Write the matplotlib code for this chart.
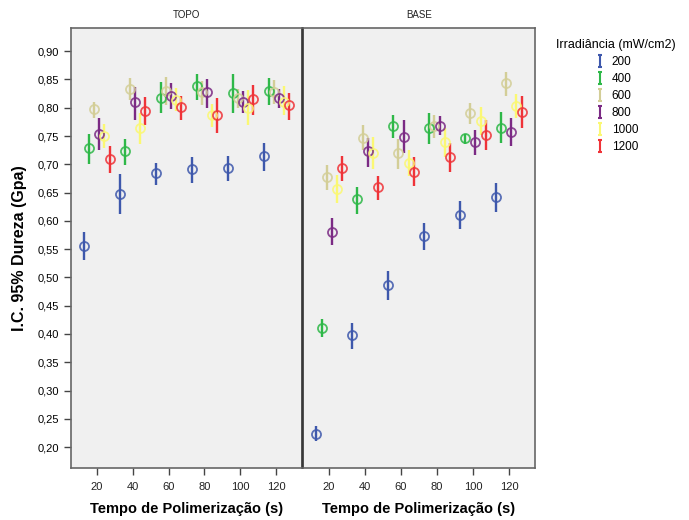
import matplotlib
matplotlib.use("Agg")
import matplotlib.pyplot as plt
from matplotlib.path import Path
from matplotlib.lines import Line2D
from matplotlib.ticker import FuncFormatter
import numpy as np

plt.rcParams['font.family'] = ['Liberation Sans', 'DejaVu Sans']

times = [20, 40, 60, 80, 100, 120]
irradiances = ['200', '400', '600', '800', '1000', '1200']
colors = ['#3e58ac', '#2eb848', '#d3ce97', '#7b2a84', '#fbf873', '#ef3338']
panels = ['TOPO', 'BASE']

# TOPO: mean, lower CI, upper CI per irradiance
topo_mean_200 = [0.556, 0.648, 0.684, 0.691, 0.693, 0.714]
topo_lo_200 = [0.530, 0.612, 0.664, 0.667, 0.670, 0.688]
topo_hi_200 = [0.581, 0.682, 0.702, 0.713, 0.715, 0.738]
topo_mean_400 = [0.729, 0.723, 0.818, 0.839, 0.826, 0.830]
topo_lo_400 = [0.701, 0.699, 0.790, 0.813, 0.790, 0.804]
topo_hi_400 = [0.753, 0.744, 0.846, 0.860, 0.859, 0.853]
topo_mean_600 = [0.797, 0.833, 0.829, 0.827, 0.817, 0.828]
topo_lo_600 = [0.781, 0.813, 0.804, 0.804, 0.800, 0.806]
topo_hi_600 = [0.811, 0.852, 0.854, 0.847, 0.834, 0.849]
topo_mean_800 = [0.754, 0.810, 0.821, 0.827, 0.810, 0.817]
topo_lo_800 = [0.726, 0.779, 0.797, 0.800, 0.790, 0.800]
topo_hi_800 = [0.781, 0.837, 0.844, 0.851, 0.829, 0.833]
topo_mean_1000 = [0.750, 0.764, 0.814, 0.788, 0.800, 0.811]
topo_lo_1000 = [0.729, 0.736, 0.795, 0.766, 0.770, 0.788]
topo_hi_1000 = [0.771, 0.790, 0.835, 0.807, 0.831, 0.838]
topo_mean_1200 = [0.709, 0.794, 0.801, 0.787, 0.815, 0.804]
topo_lo_1200 = [0.684, 0.769, 0.779, 0.756, 0.787, 0.779]
topo_hi_1200 = [0.732, 0.819, 0.820, 0.817, 0.841, 0.826]

# BASE
base_mean_200 = [0.224, 0.398, 0.487, 0.573, 0.611, 0.642]
base_lo_200 = [0.211, 0.374, 0.460, 0.549, 0.585, 0.615]
base_hi_200 = [0.238, 0.420, 0.511, 0.596, 0.635, 0.667]
base_mean_400 = [0.410, 0.638, 0.768, 0.764, 0.747, 0.765]
base_lo_400 = [0.394, 0.613, 0.747, 0.736, 0.736, 0.738]
base_hi_400 = [0.426, 0.660, 0.788, 0.790, 0.754, 0.792]
base_mean_600 = [0.677, 0.747, 0.720, 0.767, 0.790, 0.843]
base_lo_600 = [0.654, 0.725, 0.692, 0.747, 0.772, 0.820]
base_hi_600 = [0.698, 0.769, 0.745, 0.787, 0.809, 0.863]
base_mean_800 = [0.581, 0.723, 0.749, 0.768, 0.739, 0.757]
base_lo_800 = [0.557, 0.696, 0.720, 0.751, 0.717, 0.733]
base_hi_800 = [0.605, 0.747, 0.778, 0.785, 0.761, 0.781]
base_mean_1000 = [0.657, 0.720, 0.703, 0.739, 0.777, 0.803]
base_lo_1000 = [0.631, 0.692, 0.680, 0.713, 0.751, 0.782]
base_hi_1000 = [0.681, 0.748, 0.725, 0.764, 0.801, 0.824]
base_mean_1200 = [0.693, 0.659, 0.687, 0.713, 0.752, 0.792]
base_lo_1200 = [0.670, 0.636, 0.661, 0.686, 0.725, 0.764]
base_hi_1200 = [0.714, 0.680, 0.713, 0.738, 0.779, 0.820]

data = {
    'TOPO': [(topo_mean_200, topo_lo_200, topo_hi_200),
             (topo_mean_400, topo_lo_400, topo_hi_400),
             (topo_mean_600, topo_lo_600, topo_hi_600),
             (topo_mean_800, topo_lo_800, topo_hi_800),
             (topo_mean_1000, topo_lo_1000, topo_hi_1000),
             (topo_mean_1200, topo_lo_1200, topo_hi_1200)],
    'BASE': [(base_mean_200, base_lo_200, base_hi_200),
             (base_mean_400, base_lo_400, base_hi_400),
             (base_mean_600, base_lo_600, base_hi_600),
             (base_mean_800, base_lo_800, base_hi_800),
             (base_mean_1000, base_lo_1000, base_hi_1000),
             (base_mean_1200, base_lo_1200, base_hi_1200)],
}

W, H = 689, 520
fig = plt.figure(figsize=(W / 100, H / 100), dpi=100)
axL = fig.add_axes([71 / W, (H - 468) / H, 231 / W, 440 / H])
axR = fig.add_axes([303 / W, (H - 468) / H, 232 / W, 440 / H], sharey=axL)
axes = [axL, axR]

offsets = np.array([-7.0, -4.2, -1.4, 1.4, 4.2, 7.0])
fmt = FuncFormatter(lambda v, p: f"{v:.2f}".replace('.', ','))

for ax, name in zip(axes, panels):
    ax.set_facecolor('#f0f0f0')
    for i, (m, lo, hi) in enumerate(data[name]):
        x = np.array(times) + offsets[i]
        m = np.array(m); lo = np.array(lo); hi = np.array(hi)
        ax.vlines(x, lo, hi, color=colors[i], lw=1.7, zorder=3)
        ax.plot(x, m, 'o', ms=6.5, mfc='none', mec=colors[i], mew=1.3, alpha=0.85, zorder=4)
    ax.set_xlim(5.5, 134.5)
    ax.set_ylim(0.163, 0.941)
    ax.set_xticks(times)
    ax.set_xticklabels([str(t) for t in times], fontsize=8, color='#222222')
    ax.set_yticks(np.arange(0.20, 0.901, 0.05))
    ax.yaxis.set_major_formatter(fmt)
    ax.tick_params(axis='both', direction='out', length=5, width=1, color='#444444', labelsize=8)
    ax.tick_params(axis='x', pad=5)
    for s in ax.spines.values():
        s.set_color('#666666')
        s.set_linewidth(1.2)
    ax.set_title(name, fontsize=7, pad=7, color='#222222')
    ax.set_xlabel('Tempo de Polimerização (s)', fontsize=10.5, fontweight='bold', labelpad=7)

axR.tick_params(axis='y', left=False, labelleft=False)
axR.spines['left'].set_color('#333333')
axL.spines['right'].set_color('#333333')
axL.set_ylabel('I.C. 95% Dureza (Gpa)', fontsize=11.5, fontweight='bold', labelpad=8)

ibeam = Path([(-0.35, 1), (0.35, 1), (0, 1), (0, -1), (-0.35, -1), (0.35, -1)],
             [Path.MOVETO, Path.LINETO, Path.MOVETO, Path.LINETO, Path.MOVETO, Path.LINETO])
handles = [Line2D([], [], ls='none', marker=ibeam, ms=9, mec=c, mfc='none', mew=1.5)
           for c in colors]
leg = fig.legend(handles, irradiances, title='Irradiância (mW/cm2)', loc='upper left',
                 bbox_to_anchor=(548 / W, 1 - 31 / H), frameon=False, fontsize=8.5,
                 title_fontsize=9, handlelength=1.0, handletextpad=0.5, labelspacing=0.42,
                 borderpad=0.2)

fig.savefig('out.png', dpi=100, facecolor='white')
